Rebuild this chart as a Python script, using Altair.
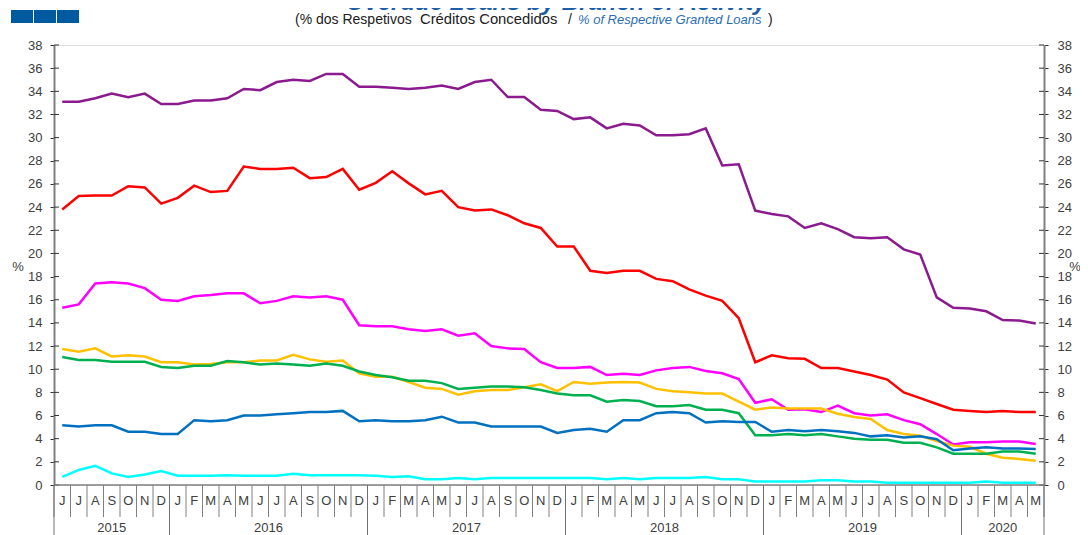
import altair as alt
import pandas as pd

# ---------------- data ----------------
month_letters = (["J", "J", "A", "S", "O", "N", "D"]
                 + ["J", "F", "M", "A", "M", "J", "J", "A", "S", "O", "N", "D"] * 4
                 + ["J", "F", "M", "A", "M"])
years = ["2015", "2016", "2017", "2018", "2019", "2020"]
year_first_idx = [0, 7, 19, 31, 43, 55]
year_last_idx = [6, 18, 30, 42, 54, 59]

series_names = ["S1", "S2", "S3", "S4", "S5", "S6", "S7"]
series_colors = ["#8B1A8E", "#FF0000", "#FF00FF", "#FFC000", "#00B050", "#0070C0", "#00FFFF"]

purple = [33.1, 33.1, 33.4, 33.8, 33.5, 33.8, 32.9,
          32.9, 33.2, 33.2, 33.4, 34.2, 34.1, 34.8, 35.0, 34.9, 35.5, 35.5, 34.4,
          34.4, 34.3, 34.2, 34.3, 34.5, 34.2, 34.8, 35.0, 33.5, 33.5, 32.4, 32.3,
          31.6, 31.75, 30.8, 31.2, 31.05, 30.2, 30.2, 30.3, 30.8, 27.6, 27.7, 23.7,
          23.4, 23.2, 22.2, 22.6, 22.1, 21.4, 21.3, 21.4, 20.35, 19.9, 16.2, 15.3,
          15.25, 15.0, 14.25, 14.2, 13.95]
red = [23.8, 24.95, 25.0, 25.0, 25.8, 25.7, 24.3,
       24.8, 25.85, 25.3, 25.4, 27.5, 27.3, 27.3, 27.4, 26.5, 26.6, 27.3, 25.5,
       26.1, 27.1, 26.05, 25.1, 25.4, 24.0, 23.7, 23.8, 23.3, 22.6, 22.2, 20.6,
       20.6, 18.5, 18.3, 18.5, 18.5, 17.8, 17.6, 16.9, 16.35, 15.9, 14.4, 10.6,
       11.2, 10.95, 10.9, 10.1, 10.1, 9.8, 9.5, 9.1, 8.0, 7.5, 7.0, 6.5,
       6.4, 6.3, 6.4, 6.3, 6.3]
magenta = [15.3, 15.6, 17.4, 17.5, 17.4, 17.0, 16.0,
           15.9, 16.3, 16.4, 16.55, 16.55, 15.7, 15.9, 16.3, 16.2, 16.3, 16.0, 13.8,
           13.7, 13.7, 13.45, 13.3, 13.45, 12.9, 13.1, 12.0, 11.8, 11.75, 10.6, 10.1,
           10.1, 10.2, 9.5, 9.6, 9.5, 9.9, 10.1, 10.2, 9.85, 9.65, 9.15, 7.1,
           7.4, 6.5, 6.55, 6.3, 6.85, 6.2, 6.0, 6.1, 5.6, 5.25, 4.4, 3.5,
           3.7, 3.7, 3.75, 3.75, 3.55]
orange = [11.75, 11.5, 11.8, 11.1, 11.2, 11.1, 10.6,
          10.6, 10.4, 10.45, 10.6, 10.6, 10.75, 10.75, 11.25, 10.85, 10.65, 10.75, 9.65,
          9.35, 9.35, 8.9, 8.4, 8.3, 7.8, 8.1, 8.2, 8.2, 8.45, 8.7, 8.1,
          8.9, 8.75, 8.85, 8.9, 8.85, 8.3, 8.1, 8.0, 7.9, 7.9, 7.2, 6.5,
          6.7, 6.6, 6.6, 6.6, 6.15, 5.87, 5.7, 4.75, 4.4, 4.25, 3.8, 3.4,
          3.3, 2.7, 2.35, 2.25, 2.1]
green = [11.05, 10.8, 10.8, 10.65, 10.65, 10.65, 10.2,
         10.1, 10.3, 10.3, 10.7, 10.6, 10.4, 10.5, 10.4, 10.3, 10.5, 10.3, 9.8,
         9.5, 9.3, 9.0, 9.0, 8.8, 8.3, 8.4, 8.5, 8.5, 8.45, 8.2, 7.9,
         7.75, 7.75, 7.2, 7.35, 7.25, 6.8, 6.8, 6.9, 6.5, 6.5, 6.2, 4.3,
         4.3, 4.4, 4.3, 4.4, 4.2, 4.0, 3.9, 3.9, 3.65, 3.65, 3.25, 2.7,
         2.7, 2.7, 2.9, 2.9, 2.7]
blue = [5.15, 5.05, 5.15, 5.15, 4.6, 4.6, 4.4,
        4.4, 5.6, 5.5, 5.6, 6.0, 6.0, 6.1, 6.2, 6.3, 6.3, 6.4, 5.5,
        5.6, 5.5, 5.5, 5.6, 5.9, 5.4, 5.4, 5.05, 5.05, 5.05, 5.05, 4.5,
        4.75, 4.85, 4.6, 5.6, 5.6, 6.2, 6.3, 6.2, 5.4, 5.5, 5.45, 5.45,
        4.6, 4.75, 4.65, 4.75, 4.65, 4.5, 4.2, 4.3, 4.1, 4.2, 3.95, 3.0,
        3.15, 3.25, 3.15, 3.15, 3.1]
cyan = [0.7, 1.3, 1.65, 1.0, 0.7, 0.9, 1.2,
        0.8, 0.8, 0.8, 0.85, 0.8, 0.8, 0.8, 0.98, 0.85, 0.85, 0.85, 0.85,
        0.8, 0.7, 0.75, 0.5, 0.5, 0.6, 0.5, 0.6, 0.6, 0.6, 0.6, 0.6,
        0.6, 0.6, 0.5, 0.6, 0.5, 0.6, 0.6, 0.6, 0.7, 0.5, 0.5, 0.3,
        0.3, 0.3, 0.3, 0.4, 0.4, 0.3, 0.3, 0.2, 0.2, 0.2, 0.2, 0.2,
        0.2, 0.3, 0.2, 0.2, 0.2]

y_ticks = list(range(0, 39, 2))

# ---------------- tables ----------------
all_series = [purple, red, magenta, orange, green, blue, cyan]
rows = []
for name, vals in zip(series_names, all_series):
    for i, v in enumerate(vals):
        rows.append({"idx": i, "value": v, "series": name})
lines_df = pd.DataFrame(rows)

months_df = pd.DataFrame({"idx": list(range(len(month_letters))), "letter": month_letters})
edges_df = pd.DataFrame({"edge": [i - 0.5 for i in range(len(month_letters) + 1)]})
year_edges = sorted(set([f - 0.5 for f in year_first_idx] + [year_last_idx[-1] + 0.5]))
year_edges_df = pd.DataFrame({"edge": year_edges})
years_df = pd.DataFrame({"year": years,
                         "center": [(a + b) / 2 for a, b in zip(year_first_idx, year_last_idx)]})
ticks_df = pd.DataFrame({"tick": y_ticks})
one = ticks_df.head(1)

W, H = 990, 440
FONT = "Liberation Sans"
xscale = alt.Scale(domain=[-0.5, 59.5], nice=False, zero=False)
yscale = alt.Scale(domain=[0, 38], nice=False, zero=True)

axis_common = dict(values=y_ticks, domainColor="#808080", domainWidth=2, tickColor="#333333",
                   tickSize=4, tickWidth=1, labelFont=FONT, labelFontSize=13,
                   labelColor="#404040", grid=False, title=None)

lines = alt.Chart(lines_df).mark_line(strokeWidth=2.5, clip=False).encode(
    x=alt.X("idx:Q", scale=xscale, axis=None),
    y=alt.Y("value:Q", scale=yscale, axis=None),
    color=alt.Color("series:N", scale=alt.Scale(domain=series_names, range=series_colors), legend=None),
    order=alt.Order("idx:Q"),
)

left_ticks = alt.Chart(ticks_df).mark_rule(color="#333333", strokeWidth=1).encode(
    y=alt.Y("tick:Q", scale=yscale, axis=alt.Axis(orient="left", labelPadding=8, **axis_common)),
    x=alt.value(0), x2=alt.value(5),
)
right_ticks = alt.Chart(ticks_df).mark_rule(color="#333333", strokeWidth=1).encode(
    y=alt.Y("tick:Q", scale=yscale, axis=alt.Axis(orient="right", labelPadding=9, **axis_common)),
    x=alt.value(W - 5), x2=alt.value(W),
)

bottom_line = alt.Chart(one).mark_rule(color="#808080", strokeWidth=1.5).encode(
    x=alt.value(0), x2=alt.value(W), y=alt.value(H),
)

month_sep = alt.Chart(edges_df).mark_rule(color="#808080", strokeWidth=1).encode(
    x=alt.X("edge:Q", scale=xscale, axis=None),
    y=alt.value(H), y2=alt.value(H + 32),
)
year_sep = alt.Chart(year_edges_df).mark_rule(color="#707070", strokeWidth=1).encode(
    x=alt.X("edge:Q", scale=xscale, axis=None),
    y=alt.value(H), y2=alt.value(H + 60),
)
month_text = alt.Chart(months_df).mark_text(font=FONT, fontSize=13, color="#404040", baseline="middle").encode(
    x=alt.X("idx:Q", scale=xscale, axis=None),
    y=alt.value(H + 16),
    text="letter:N",
)
year_text = alt.Chart(years_df).mark_text(font=FONT, fontSize=13, color="#404040", baseline="middle").encode(
    x=alt.X("center:Q", scale=xscale, axis=None),
    y=alt.value(H + 43),
    text="year:N",
)

pct_left = alt.Chart(one).mark_text(font=FONT, fontSize=13, color="#404040", text="%").encode(
    x=alt.value(-36), y=alt.value(222))
pct_right = alt.Chart(one).mark_text(font=FONT, fontSize=13, color="#404040", text="%").encode(
    x=alt.value(1021), y=alt.value(222))

title = alt.Chart(one).mark_text(
    font=FONT, fontSize=24, fontWeight="bold", fontStyle="italic", color="#1A5EA8",
    baseline="alphabetic", align="center", text="Overdue Loans by Branch of Activity").encode(
    x=alt.value(502), y=alt.value(-35))

sub_style = dict(font=FONT, fontSize=14, color="#202020", baseline="alphabetic", align="left")
sub1a = alt.Chart(one).mark_text(text="(% dos Respetivos", **sub_style).encode(
    x=alt.value(241), y=alt.value(-21))
sub1b = alt.Chart(one).mark_text(text="Créditos Concedidos", font=FONT, fontSize=14.8, color="#202020",
                                 baseline="alphabetic", align="left").encode(
    x=alt.value(366), y=alt.value(-21))
sub1c = alt.Chart(one).mark_text(text="/", **sub_style).encode(
    x=alt.value(514), y=alt.value(-21))
sub2 = alt.Chart(one).mark_text(
    font=FONT, fontSize=13, fontStyle="italic", color="#2A6EB5", baseline="alphabetic", align="left",
    text="% of Respective Granted Loans").encode(x=alt.value(524), y=alt.value(-21))
sub3 = alt.Chart(one).mark_text(text=")", **sub_style).encode(
    x=alt.value(714), y=alt.value(-21))

squares = [
    alt.Chart(one).mark_rect(color="#005AA0").encode(
        x=alt.value(x0), x2=alt.value(x0 + 22), y=alt.value(-35), y2=alt.value(-22))
    for x0 in (-43, -20, 3)
]

chart = alt.layer(
    left_ticks, right_ticks, bottom_line, month_sep, year_sep, month_text, year_text,
    lines, pct_left, pct_right, title, sub1a, sub1b, sub1c, sub2, sub3, *squares,
).resolve_axis(y="independent").properties(
    width=W, height=H,
    autosize=alt.AutoSizeParams(type="none"),
    padding={"left": 46, "top": 37, "right": 36, "bottom": 50},
).configure_view(stroke=None).configure(background="white")

chart.save("out.html", embed_options={"renderer": "svg", "actions": False})
